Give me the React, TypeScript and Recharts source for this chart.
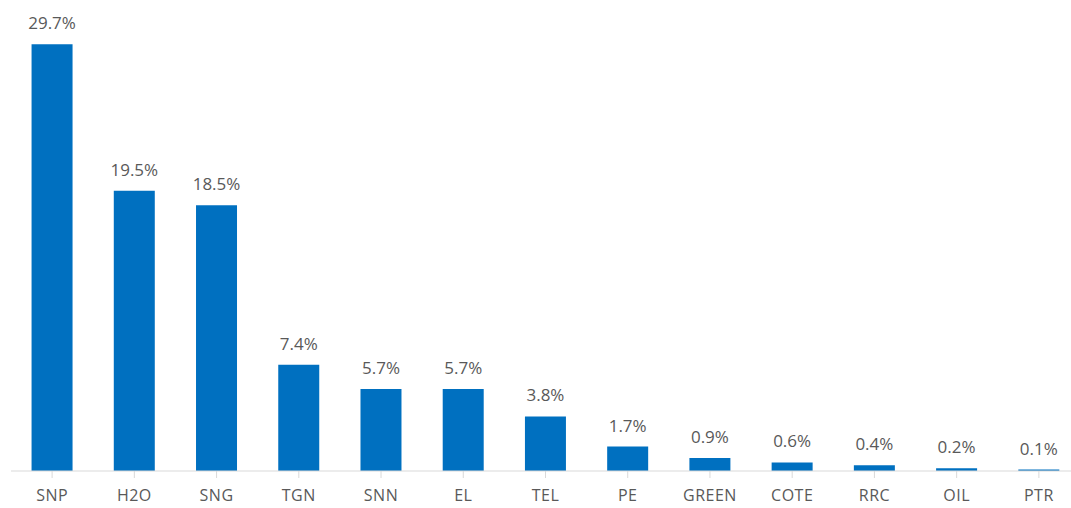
import { BarChart, Bar, XAxis, YAxis, LabelList } from "recharts";

const tickers = ["SNP", "H2O", "SNG", "TGN", "SNN", "EL", "TEL", "PE", "GREEN", "COTE", "RRC", "OIL", "PTR"];
const shares = [29.7, 19.5, 18.5, 7.4, 5.7, 5.7, 3.8, 1.7, 0.9, 0.6, 0.4, 0.2, 0.1];

const data = tickers.map((name, i) => ({ name, share: shares[i] }));

const font = "'Open Sans', 'Segoe UI', sans-serif";

export default function App() {
  return (
    <div
      style={{
        position: "fixed",
        left: 0,
        top: 0,
        width: 1071,
        height: 508,
        overflow: "hidden",
        background: "#fff",
      }}
    >
      <BarChart
        width={1092}
        height={508}
        data={data}
        margin={{ top: 40, right: 12, bottom: 0, left: 11 }}
        barCategoryGap="25%"
      >
        <XAxis
          dataKey="name"
          axisLine={{ stroke: "#d9d9d9" }}
          tickLine={{ stroke: "#d9d9d9" }}
          tickSize={7}
          tickMargin={12}
          height={37}
          interval={0}
          tick={{ fill: "#595959", fontSize: 16, fontFamily: font, letterSpacing: 0.5 }}
        />
        <YAxis hide domain={[0, 30]} />
        <Bar dataKey="share" fill="#0070c0" isAnimationActive={false}>
          <LabelList
            dataKey="share"
            position="top"
            offset={15}
            formatter={(v: number) => `${v.toFixed(1)}%`}
            style={{ fill: "#595959", fontSize: 17, fontFamily: font }}
          />
        </Bar>
      </BarChart>
    </div>
  );
}
